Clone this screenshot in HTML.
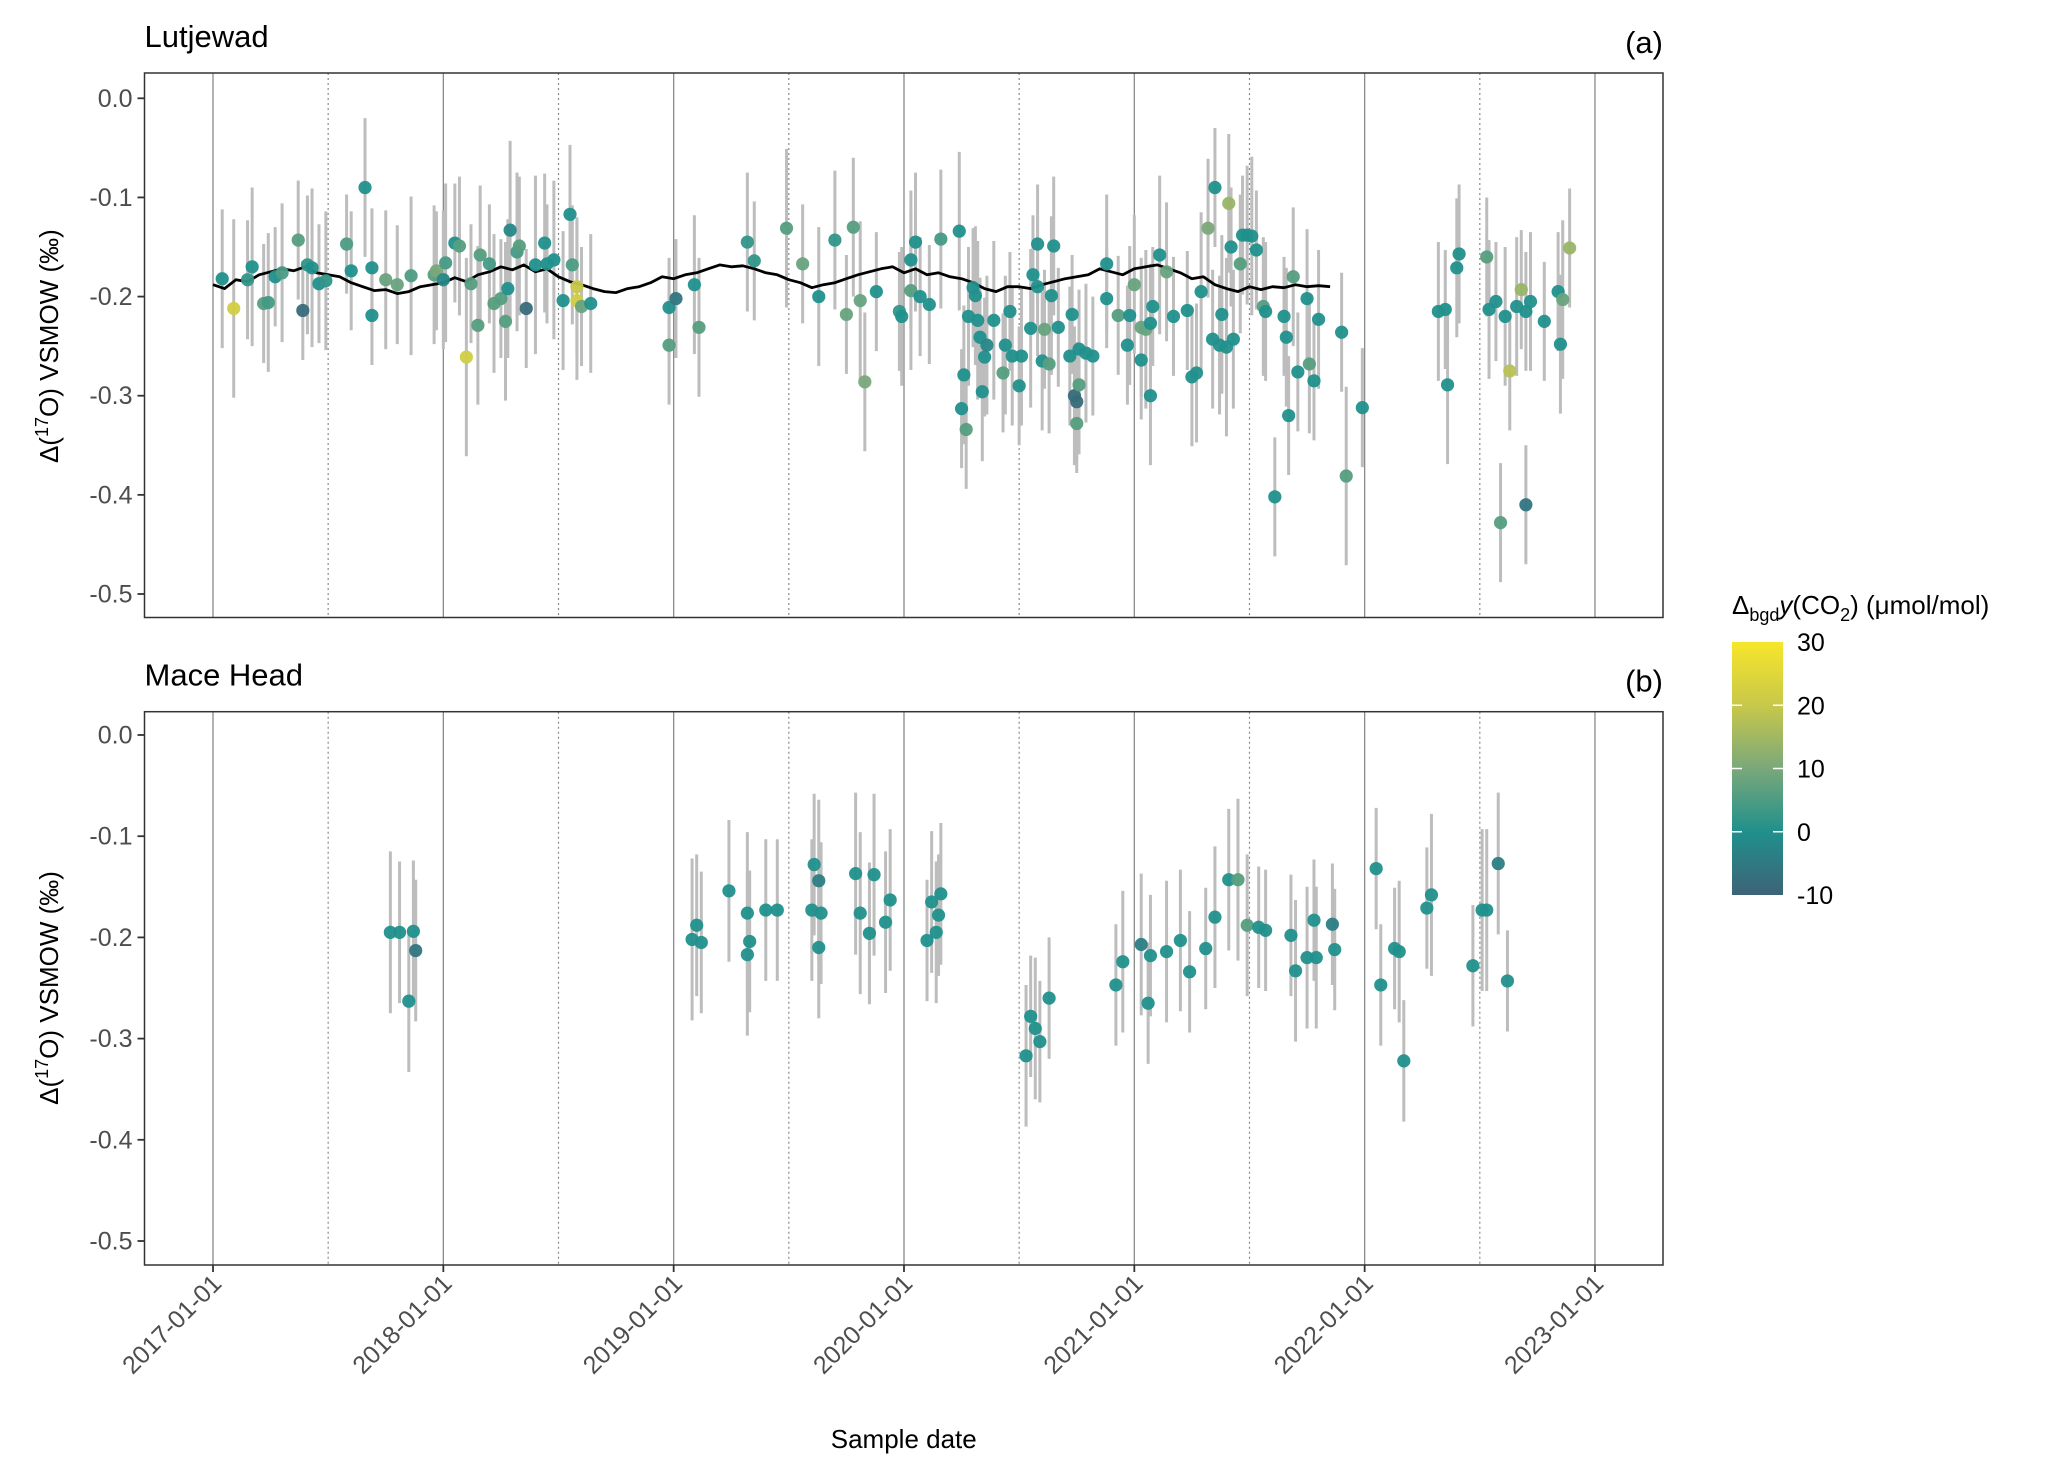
<!DOCTYPE html>
<html><head><meta charset="utf-8"><style>
body{margin:0;background:#fff;}
svg{display:block;font-family:"Liberation Sans",sans-serif;}
</style></head><body>
<svg id="chart" width="2067" height="1475" viewBox="0 0 2067 1475" xmlns="http://www.w3.org/2000/svg">
<defs><linearGradient id="cbar" x1="0" y1="1" x2="0" y2="0">
<stop offset="0" stop-color="#3d6377"/><stop offset="0.25" stop-color="#20908c"/><stop offset="0.5" stop-color="#7aa87a"/><stop offset="0.75" stop-color="#c8c84a"/><stop offset="1" stop-color="#f7e62a"/></linearGradient></defs>
<g id="root"></g>
</svg>
<script>
// ---------- data ----------
const yTickVals = [0, -0.1, -0.2, -0.3, -0.4, -0.5];
const yTickLabels = ["0.0", "-0.1", "-0.2", "-0.3", "-0.4", "-0.5"];
const xYears = [2017, 2018, 2019, 2020, 2021, 2022, 2023];
const xTickLabels = ["2017-01-01","2018-01-01","2019-01-01","2020-01-01","2021-01-01","2022-01-01","2023-01-01"];
const cbTicks = [30, 20, 10, 0, -10];

// Lutjewad samples: decimal year, value, error half-width, colour value
const lutT = [2017.04,2017.09,2017.15,2017.17,2017.22,2017.24,2017.27,2017.30,2017.37,2017.39,2017.41,2017.43,2017.46,2017.49,2017.58,2017.60,2017.66,2017.69,2017.69,2017.75,2017.80,2017.86,2017.96,2017.97,2018.00,2018.01,2018.05,2018.07,2018.10,2018.12,2018.15,2018.16,2018.20,2018.22,2018.25,2018.27,2018.28,2018.29,2018.32,2018.33,2018.36,2018.40,2018.44,2018.45,2018.48,2018.52,2018.55,2018.56,2018.58,2018.58,2018.60,2018.64,2018.98,2018.98,2019.01,2019.09,2019.11,2019.32,2019.35,2019.49,2019.56,2019.63,2019.70,2019.75,2019.78,2019.81,2019.83,2019.88,2019.98,2019.99,2020.03,2020.03,2020.05,2020.07,2020.11,2020.16,2020.24,2020.25,2020.26,2020.27,2020.28,2020.30,2020.31,2020.32,2020.33,2020.34,2020.35,2020.36,2020.39,2020.43,2020.44,2020.46,2020.47,2020.50,2020.51,2020.55,2020.56,2020.58,2020.58,2020.60,2020.61,2020.63,2020.64,2020.65,2020.67,2020.72,2020.73,2020.74,2020.75,2020.75,2020.76,2020.76,2020.79,2020.82,2020.88,2020.88,2020.93,2020.97,2020.98,2021.00,2021.03,2021.03,2021.05,2021.07,2021.07,2021.08,2021.11,2021.14,2021.17,2021.23,2021.25,2021.27,2021.29,2021.32,2021.34,2021.35,2021.37,2021.38,2021.40,2021.41,2021.42,2021.43,2021.46,2021.47,2021.49,2021.51,2021.53,2021.56,2021.57,2021.61,2021.65,2021.66,2021.67,2021.69,2021.71,2021.75,2021.76,2021.78,2021.80,2021.90,2021.92,2021.99,2022.32,2022.35,2022.36,2022.40,2022.41,2022.53,2022.54,2022.57,2022.59,2022.61,2022.63,2022.66,2022.68,2022.70,2022.70,2022.72,2022.78,2022.84,2022.85,2022.86,2022.89];
const lutV = [-0.182,-0.212,-0.183,-0.170,-0.207,-0.206,-0.180,-0.176,-0.143,-0.214,-0.168,-0.171,-0.187,-0.184,-0.147,-0.174,-0.090,-0.171,-0.219,-0.183,-0.188,-0.179,-0.178,-0.174,-0.183,-0.166,-0.146,-0.149,-0.261,-0.187,-0.229,-0.158,-0.167,-0.207,-0.202,-0.225,-0.192,-0.133,-0.155,-0.149,-0.212,-0.168,-0.146,-0.167,-0.163,-0.204,-0.117,-0.168,-0.204,-0.190,-0.210,-0.207,-0.211,-0.249,-0.202,-0.188,-0.231,-0.145,-0.164,-0.131,-0.167,-0.200,-0.143,-0.218,-0.130,-0.204,-0.286,-0.195,-0.215,-0.220,-0.194,-0.163,-0.145,-0.200,-0.208,-0.142,-0.134,-0.313,-0.279,-0.334,-0.220,-0.191,-0.199,-0.224,-0.241,-0.296,-0.261,-0.249,-0.224,-0.277,-0.249,-0.215,-0.260,-0.290,-0.260,-0.232,-0.178,-0.190,-0.147,-0.265,-0.233,-0.268,-0.199,-0.149,-0.231,-0.260,-0.218,-0.300,-0.306,-0.328,-0.289,-0.253,-0.257,-0.260,-0.202,-0.167,-0.219,-0.249,-0.219,-0.188,-0.264,-0.231,-0.233,-0.227,-0.300,-0.210,-0.158,-0.175,-0.220,-0.214,-0.281,-0.277,-0.195,-0.131,-0.243,-0.090,-0.249,-0.218,-0.251,-0.106,-0.150,-0.243,-0.167,-0.138,-0.138,-0.139,-0.153,-0.210,-0.215,-0.402,-0.220,-0.241,-0.320,-0.180,-0.276,-0.202,-0.268,-0.285,-0.223,-0.236,-0.381,-0.312,-0.215,-0.213,-0.289,-0.171,-0.157,-0.160,-0.213,-0.205,-0.428,-0.220,-0.275,-0.210,-0.193,-0.215,-0.410,-0.205,-0.225,-0.195,-0.248,-0.203,-0.151];
const lutE = [0.07,0.09,0.06,0.08,0.06,0.07,0.05,0.07,0.06,0.05,0.07,0.08,0.06,0.07,0.05,0.06,0.07,0.06,0.05,0.07,0.06,0.08,0.07,0.06,0.07,0.08,0.06,0.07,0.10,0.06,0.08,0.07,0.06,0.07,0.06,0.08,0.07,0.09,0.08,0.07,0.06,0.09,0.07,0.06,0.08,0.07,0.07,0.06,0.08,0.07,0.06,0.07,0.05,0.06,0.06,0.07,0.07,0.07,0.06,0.08,0.06,0.07,0.07,0.06,0.07,0.08,0.07,0.06,0.06,0.07,0.08,0.07,0.07,0.06,0.06,0.07,0.08,0.06,0.07,0.06,0.07,0.06,0.07,0.08,0.06,0.07,0.06,0.07,0.08,0.06,0.07,0.06,0.07,0.06,0.07,0.08,0.06,0.07,0.06,0.07,0.06,0.07,0.08,0.07,0.06,0.07,0.06,0.07,0.06,0.05,0.07,0.06,0.07,0.06,0.05,0.07,0.06,0.06,0.07,0.07,0.06,0.07,0.08,0.06,0.07,0.06,0.08,0.07,0.06,0.06,0.07,0.07,0.08,0.07,0.07,0.06,0.07,0.08,0.09,0.07,0.06,0.07,0.07,0.06,0.07,0.08,0.06,0.07,0.07,0.06,0.06,0.07,0.06,0.07,0.06,0.07,0.07,0.06,0.07,0.06,0.09,0.06,0.07,0.06,0.08,0.07,0.07,0.06,0.07,0.06,0.06,0.07,0.06,0.07,0.06,0.06,0.06,0.07,0.06,0.06,0.07,0.08,0.06,0.07,0.07,0.09];
const lutC = [0,22,2,0,6,4,0,5,6,-8,2,0,0,2,5,0,0,0,0,8,8,5,6,10,-2,4,0,6,22,6,6,6,4,6,6,6,0,-2,4,6,-8,0,0,0,0,0,0,5,22,20,8,0,0,6,-6,0,6,2,2,6,8,0,2,8,6,8,10,0,2,0,6,0,0,0,0,4,0,0,0,6,0,0,0,0,0,0,0,-2,0,6,0,0,0,0,0,0,0,0,0,0,8,6,0,0,0,0,0,-8,-8,6,6,0,0,0,0,0,6,0,0,8,0,8,8,0,0,0,0,8,0,0,0,0,0,10,0,0,0,0,0,14,0,0,6,0,0,0,0,6,0,0,0,0,0,6,0,0,6,0,0,0,6,0,0,0,0,0,0,6,0,0,6,0,18,0,14,0,-6,0,0,0,0,8,14];

// Lutjewad background curve (every 0.05 yr from 2017.00)
const bgStart = 2017.0;
const bgStep = 0.05;
const bgV = [-0.188,-0.192,-0.183,-0.185,-0.178,-0.175,-0.172,-0.174,-0.170,-0.176,-0.178,-0.180,-0.186,-0.190,-0.194,-0.193,-0.197,-0.195,-0.190,-0.188,-0.186,-0.181,-0.185,-0.178,-0.175,-0.170,-0.173,-0.168,-0.175,-0.172,-0.180,-0.185,-0.188,-0.192,-0.195,-0.196,-0.192,-0.190,-0.186,-0.180,-0.182,-0.178,-0.176,-0.172,-0.168,-0.170,-0.169,-0.172,-0.176,-0.178,-0.183,-0.186,-0.191,-0.188,-0.186,-0.182,-0.178,-0.175,-0.172,-0.170,-0.176,-0.172,-0.178,-0.176,-0.180,-0.182,-0.186,-0.192,-0.195,-0.190,-0.190,-0.192,-0.188,-0.185,-0.182,-0.180,-0.178,-0.172,-0.175,-0.178,-0.172,-0.170,-0.168,-0.172,-0.176,-0.182,-0.180,-0.188,-0.192,-0.195,-0.190,-0.193,-0.190,-0.191,-0.188,-0.190,-0.189,-0.190];

// Mace Head samples
const macT = [2017.77,2017.81,2017.85,2017.87,2017.88,2019.08,2019.10,2019.12,2019.24,2019.32,2019.32,2019.33,2019.40,2019.45,2019.60,2019.61,2019.63,2019.63,2019.64,2019.79,2019.81,2019.85,2019.87,2019.92,2019.94,2020.10,2020.12,2020.14,2020.15,2020.16,2020.53,2020.55,2020.57,2020.59,2020.63,2020.92,2020.95,2021.03,2021.06,2021.07,2021.14,2021.20,2021.24,2021.31,2021.35,2021.41,2021.45,2021.49,2021.54,2021.57,2021.68,2021.70,2021.75,2021.78,2021.79,2021.86,2021.87,2022.05,2022.07,2022.13,2022.15,2022.17,2022.27,2022.29,2022.47,2022.51,2022.53,2022.58,2022.62];
const macV = [-0.195,-0.195,-0.263,-0.194,-0.213,-0.202,-0.188,-0.205,-0.154,-0.176,-0.217,-0.204,-0.173,-0.173,-0.173,-0.128,-0.144,-0.210,-0.176,-0.137,-0.176,-0.196,-0.138,-0.185,-0.163,-0.203,-0.165,-0.195,-0.178,-0.157,-0.317,-0.278,-0.290,-0.303,-0.260,-0.247,-0.224,-0.207,-0.265,-0.218,-0.214,-0.203,-0.234,-0.211,-0.180,-0.143,-0.143,-0.188,-0.190,-0.193,-0.198,-0.233,-0.220,-0.183,-0.220,-0.187,-0.212,-0.132,-0.247,-0.211,-0.214,-0.322,-0.171,-0.158,-0.228,-0.173,-0.173,-0.127,-0.243];
const macE = [0.08,0.07,0.07,0.07,0.07,0.08,0.07,0.07,0.07,0.08,0.08,0.07,0.07,0.07,0.07,0.07,0.08,0.07,0.07,0.08,0.08,0.07,0.08,0.07,0.07,0.06,0.07,0.07,0.06,0.07,0.07,0.06,0.07,0.06,0.06,0.06,0.07,0.07,0.06,0.06,0.07,0.07,0.06,0.06,0.07,0.07,0.08,0.07,0.06,0.06,0.06,0.07,0.07,0.06,0.07,0.06,0.06,0.06,0.06,0.06,0.07,0.06,0.06,0.08,0.06,0.08,0.08,0.07,0.05];
const macC = [0,0,0,0,-6,0,0,0,0,0,0,0,0,0,0,0,-4,0,0,0,0,0,0,0,0,0,0,0,0,0,0,0,0,0,0,0,0,-4,0,0,0,0,0,0,0,0,6,6,0,0,0,0,0,0,0,-4,0,0,0,0,0,0,0,0,0,0,0,-4,0];

// ---------- scales ----------
const NS = "http://www.w3.org/2000/svg";
const root = document.getElementById('root');
function mk(tag, attrs, parent){ const e=document.createElementNS(NS,tag); for(const k in attrs) e.setAttribute(k,attrs[k]); (parent||root).appendChild(e); return e; }
const X0 = 213, XPY = 230.33;
function xScale(t){ return X0 + (t - 2017) * XPY; }
const panelA = {left:144.5, right:1663, top:73, bottom:617.5, y0:98.3, ppu:991.4};
const panelB = {left:144.5, right:1663, top:711.7, bottom:1265, y0:735, ppu:1012};
function yScale(p, v){ return p.y0 - v * p.ppu; }
const cStops = [[-10,[61,99,119]],[0,[32,144,140]],[10,[122,168,122]],[20,[200,200,74]],[30,[247,230,42]]];
function colour(c){
  if (c === undefined) c = 0;
  c = Math.max(-10, Math.min(30, c));
  for(let i=0;i<cStops.length-1;i++){
    const [a,ca]=cStops[i],[b,cb]=cStops[i+1];
    if(c<=b){ const f=(c-a)/(b-a); return 'rgb('+ca.map((v,j)=>Math.round(v+(cb[j]-v)*f)).join(',')+')'; }
  }
  return 'rgb(247,230,42)';
}

function drawPanel(p, name, ts, vs, es){
  const g = mk('g', {});
  
  
  xYears.forEach((yr, i) => {
    const l = mk('line', {x1:xScale(yr), x2:xScale(yr), y1:p.top, y2:p.bottom, stroke:'#8a8a8a', 'stroke-width':1.3}, g);
    
    
    if (i < xYears.length - 1) {
      const d = mk('line', {x1:xScale(yr+0.5), x2:xScale(yr+0.5), y1:p.top, y2:p.bottom, stroke:'#8a8a8a', 'stroke-width':1.2, 'stroke-dasharray':'2,3'}, g);
      
      
    }
  });
  ts.forEach((t, i) => {
    if (vs[i] === undefined) return;
    const e0 = es[i] || 0.07;
    const e = mk('line', {x1:xScale(t), x2:xScale(t), y1:yScale(p, vs[i]+e0), y2:yScale(p, vs[i]-e0), stroke:'#bdbdbd', 'stroke-width':3}, g);
    
    
  });
  return g;
}
function drawPoints(p, g, ts, vs, cs){
  ts.forEach((t, i) => {
    if (vs[i] === undefined) return;
    const c = mk('circle', {cx:xScale(t), cy:yScale(p, vs[i]), r:6.6, fill:colour(cs[i]), 'fill-opacity':0.95}, g);
    
    
  });
}
function drawFrame(p, title, tag, showX){
  const fr = mk('rect', {x:p.left, y:p.top, width:p.right-p.left, height:p.bottom-p.top, fill:'none', stroke:'#333', 'stroke-width':1.5});
  
  
  yTickVals.forEach((v, i) => {
    const y = yScale(p, v);
    const tk = mk('line', {x1:p.left-7, x2:p.left, y1:y, y2:y, stroke:'#333', 'stroke-width':1.8});
    
    
    const tl = mk('text', {x:p.left-12, y:y+8.5, 'text-anchor':'end', 'font-size':25, fill:'#4d4d4d'});
    tl.textContent = yTickLabels[i];
    
    
  });
  const t = mk('text', {x:p.left, y:p.top-26, 'font-size':31, fill:'#000'});
  t.textContent = title;
  
  
  const tg = mk('text', {x:p.right, y:p.top-20, 'text-anchor':'end', 'font-size':31, fill:'#000'});
  tg.textContent = tag;
  
  
  const cy = (p.y0 + yScale(p, -0.5)) / 2;
  const yt = mk('text', {x:0, y:0, transform:'translate(58,'+cy+') rotate(-90)', 'text-anchor':'middle', 'font-size':26, fill:'#000'});
  yt.innerHTML = 'Δ(<tspan dy="-10" font-size="18">17</tspan><tspan dy="10">O) VSMOW (‰)</tspan>';
  
  
  if (showX) {
    xYears.forEach((yr, i) => {
      const x = xScale(yr);
      const tk = mk('line', {x1:x, x2:x, y1:p.bottom, y2:p.bottom+7, stroke:'#333', 'stroke-width':1.8});
      
      
      const tl = mk('text', {x:0, y:0, transform:'translate('+(x+10)+','+(p.bottom+20)+') rotate(-45)', 'text-anchor':'end', 'font-size':25, fill:'#4d4d4d'});
      tl.textContent = xTickLabels[i];
      
      
    });
  }
}

// panel a
const ga = drawPanel(panelA, 'panel-lutjewad', lutT, lutV, lutE);
let d = '';
bgV.forEach((v, i) => { d += (i ? 'L' : 'M') + xScale(bgStart + i*bgStep).toFixed(1) + ',' + yScale(panelA, v).toFixed(1); });
const bgl = mk('path', {d:d, fill:'none', stroke:'#000', 'stroke-width':2.8, 'stroke-linejoin':'round'}, ga);


drawPoints(panelA, ga, lutT, lutV, lutC);
drawFrame(panelA, 'Lutjewad', '(a)', false);

// panel b
const gb = drawPanel(panelB, 'panel-mace-head', macT, macV, macE);
drawPoints(panelB, gb, macT, macV, macC);
drawFrame(panelB, 'Mace Head', '(b)', true);

const xt = mk('text', {x:(panelB.left+panelB.right)/2, y:1448, 'text-anchor':'middle', 'font-size':26, fill:'#000'});
xt.textContent = 'Sample date';



// legend
const lg = mk('g', {});


const lt = mk('text', {x:1732, y:614, 'font-size':26, fill:'#000'}, lg);
lt.innerHTML = 'Δ<tspan dy="7" font-size="18">bgd</tspan><tspan dy="-7" font-style="italic">y</tspan>(CO<tspan dy="7" font-size="18">2</tspan><tspan dy="-7">) (μmol/mol)</tspan>';


const cb = mk('rect', {x:1732, y:642, width:51, height:253, fill:'url(#cbar)'}, lg);


function cbY(v){ return 895 - (v + 10) / 40 * 253; }
cbTicks.forEach(v => {
  const y = cbY(v);
  if (v < 30 && v > -10) {
    mk('line', {x1:1732, x2:1742, y1:y, y2:y, stroke:'#fff', 'stroke-width':1.5}, lg);
    mk('line', {x1:1773, x2:1783, y1:y, y2:y, stroke:'#fff', 'stroke-width':1.5}, lg);
  }
  const tl = mk('text', {x:1797, y:y+9, 'font-size':25, fill:'#000'}, lg);
  tl.textContent = String(v);
  
  
});
</script>
</body></html>
